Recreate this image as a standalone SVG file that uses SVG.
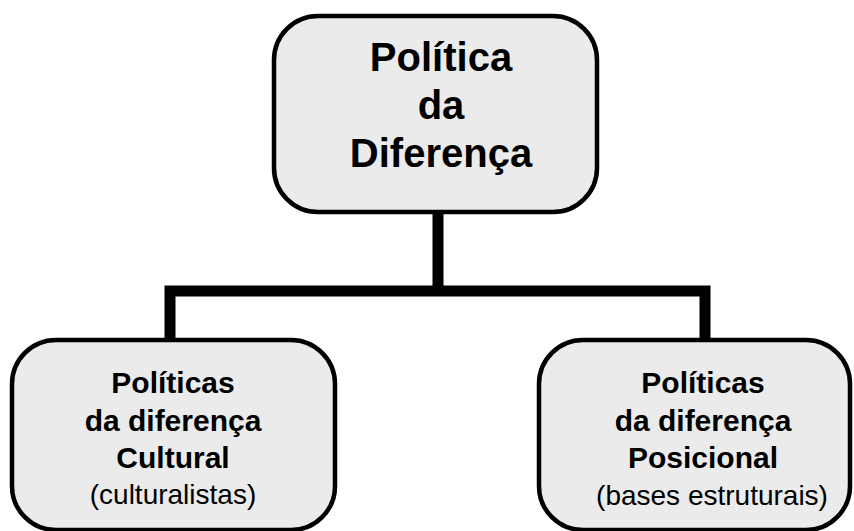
<svg xmlns="http://www.w3.org/2000/svg" width="854" height="531" viewBox="0 0 854 531">
<style>
.box{fill:#ebebeb;stroke:#000;stroke-width:4.5}
.t{font-family:"Liberation Sans",Arial,sans-serif;text-anchor:middle;fill:#000}
.b{font-weight:bold}
.conn{fill:none;stroke:#000;stroke-width:11;stroke-linejoin:miter}
</style>
<rect width="854" height="531" fill="#fff"/>
<g id="connectors">
<path class="conn" d="M438 212 V291 M170 340 V291 H705 V340"/>
</g>
<g id="top">
<rect class="box" x="274" y="16" width="323" height="196" rx="44" ry="44"/>
<text class="t b" font-size="40" x="441" y="71">Política</text>
<text class="t b" font-size="40" x="441" y="119">da</text>
<text class="t b" font-size="40" x="441" y="167">Diferença</text>
</g>
<g id="left">
<rect class="box" x="12" y="340" width="323" height="190" rx="44" ry="44"/>
<text class="t b" font-size="30" x="173" y="393">Políticas</text>
<text class="t b" font-size="30" x="173" y="431">da diferença</text>
<text class="t b" font-size="30" x="173" y="468">Cultural</text>
<text class="t" font-size="28" x="173" y="504">(culturalistas)</text>
</g>
<g id="right">
<rect class="box" x="539" y="340" width="311" height="190" rx="44" ry="44"/>
<text class="t b" font-size="30" x="703" y="393">Políticas</text>
<text class="t b" font-size="30" x="703" y="431">da diferença</text>
<text class="t b" font-size="30" x="703" y="468">Posicional</text>
<text class="t" font-size="28" x="712" y="505">(bases estruturais)</text>
</g>
</svg>
